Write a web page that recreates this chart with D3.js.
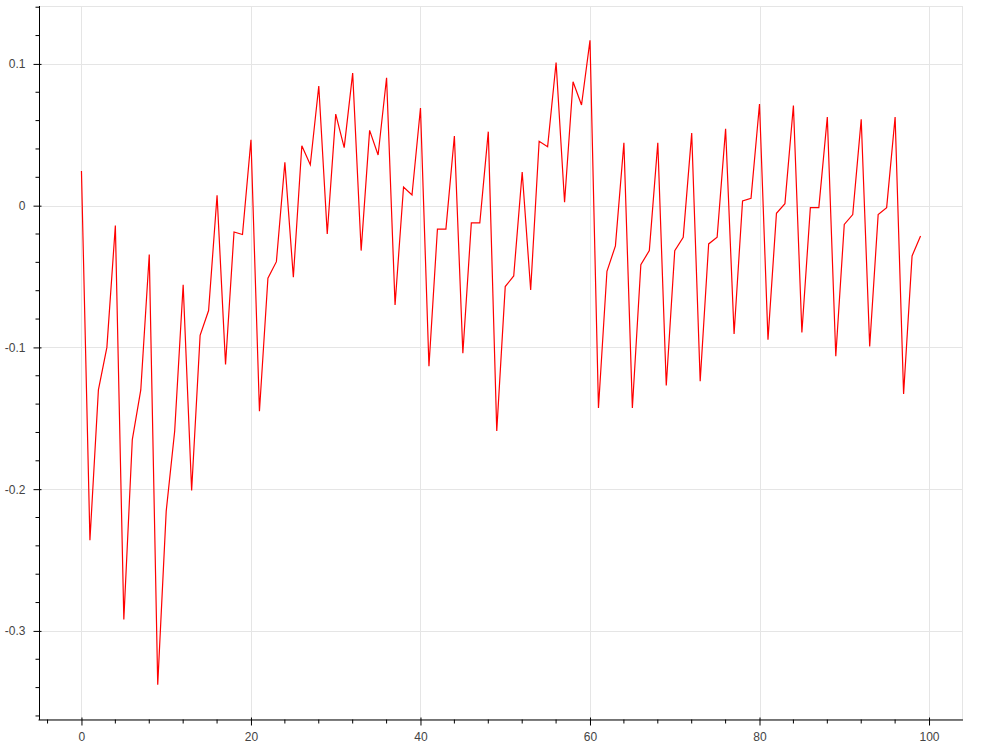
<!DOCTYPE html>
<html>
<head>
<meta charset="utf-8">
<script src="https://cdn.jsdelivr.net/npm/d3@7"></script>
<style>
  html, body { margin: 0; padding: 0; background: #fff; }
  svg { display: block; }
  text { font-family: "Liberation Sans", Arial, Helvetica, sans-serif; }
</style>
</head>
<body>
<svg id="chart" width="1000" height="750"></svg>
<script>
// ---- data ----
const xValues = d3.range(0, 100);
const yValues = [
  0.0244, -0.236, -0.130, -0.100, -0.014, -0.292, -0.165, -0.130, -0.0345, -0.338,
  -0.2155, -0.159, -0.0558, -0.201, -0.0915, -0.074, 0.0073, -0.112, -0.0186, -0.0204,
  0.0465, -0.145, -0.0512, -0.0395, 0.0306, -0.0505, 0.0423, 0.0289, 0.0844, -0.020,
  0.0646, 0.0409, 0.0935, -0.0317, 0.0531, 0.0357, 0.0902, -0.070, 0.0132, 0.0075,
  0.0689, -0.1133, -0.0165, -0.0165, 0.0491, -0.1041, -0.0122, -0.0122, 0.0522, -0.159,
  -0.0571, -0.0496, 0.0237, -0.0595, 0.0454, 0.0416, 0.101, 0.0024, 0.0874, 0.071,
  0.1166, -0.1427, -0.0463, -0.0284, 0.0444, -0.1427, -0.0416, -0.0317, 0.0444, -0.1269,
  -0.0317, -0.0223, 0.0512, -0.1239, -0.027, -0.0223, 0.0543, -0.0905, 0.0033, 0.0052,
  0.0717, -0.0945, -0.0054, 0.0014, 0.0707, -0.0895, -0.0014, -0.0014, 0.0625, -0.1062,
  -0.0132, -0.0063, 0.0609, -0.0994, -0.0063, -0.0014, 0.0625, -0.1328, -0.0355, -0.0214
];
const xTicks = [0, 20, 40, 60, 80, 100];
const yTicks = [-0.3, -0.2, -0.1, 0, 0.1];
const xMinorStep = 4;
const yMinorStep = 0.02;
const xDomain = [-4.95, 103.95];
const yDomain = [-0.3625, 0.1405];

// ---- layout ----
const frame = { left: 39.5, right: 962.5, top: 6.5, bottom: 719.5 };
const svg = d3.select("#chart");

const x = d3.scaleLinear().domain(xDomain).range([frame.left, frame.right]);
const y = d3.scaleLinear().domain(yDomain).range([frame.bottom, frame.top]);

const gridColor = "#e5e5e5";
const labelColor = "#444444";

// outline
svg.append("rect")
  .attr("x", frame.left).attr("y", frame.top)
  .attr("width", frame.right - frame.left)
  .attr("height", frame.bottom - frame.top)
  .attr("fill", "none").attr("stroke", gridColor).attr("stroke-width", 1);

// grid
const gx = svg.append("g");
gx.selectAll("line.xg").data(xTicks).join("line")
  .attr("x1", d => Math.round(x(d)) + 0.5).attr("x2", d => Math.round(x(d)) + 0.5)
  .attr("y1", frame.top).attr("y2", frame.bottom)
  .attr("stroke", gridColor).attr("stroke-width", 1);
gx.selectAll("line.yg").data(yTicks).join("line")
  .attr("y1", d => Math.round(y(d)) + 0.5).attr("y2", d => Math.round(y(d)) + 0.5)
  .attr("x1", frame.left).attr("x2", frame.right)
  .attr("stroke", gridColor).attr("stroke-width", 1);

// line
const line = d3.line().x((d, i) => x(xValues[i])).y(d => y(d));
svg.append("path")
  .datum(yValues)
  .attr("d", line)
  .attr("fill", "none")
  .attr("stroke", "red")
  .attr("stroke-width", 1.2)
  .attr("stroke-linejoin", "miter");

// x axis
const xMinor = d3.range(-4, 104, xMinorStep).filter(v => v >= xDomain[0] && v <= xDomain[1] && !xTicks.includes(v));
const xAxis = d3.axisBottom(x).tickValues(xTicks).tickFormat(d3.format("d"))
  .tickSizeInner(6).tickSizeOuter(0).tickPadding(7);
const xg = svg.append("g").attr("transform", `translate(0,${frame.bottom})`).call(xAxis);
xg.select(".domain").attr("stroke", "#000").attr("d", `M${frame.left - 1},0.5H${frame.right + 0.5}`);
xg.selectAll(".tick line").attr("stroke", "#000").attr("y1", -2).attr("y2", 6);
xg.selectAll(".tick text").attr("fill", labelColor).style("font-size", "12px");
xg.selectAll("line.minor").data(xMinor).join("line").attr("class", "minor")
  .attr("x1", d => x(d)).attr("x2", d => x(d))
  .attr("y1", 0).attr("y2", 4).attr("stroke", "#000");

// y axis
const yMinor = d3.range(-18, 8).map(k => +(k * yMinorStep).toFixed(2))
  .filter(v => v >= yDomain[0] && v <= yDomain[1] && !yTicks.some(t => Math.abs(t - v) < 1e-9));
const yAxis = d3.axisLeft(y).tickValues(yTicks).tickFormat(d => d === 0 ? "0" : d3.format(".1f")(d).replace("−", "-"))
  .tickSizeInner(6).tickSizeOuter(0).tickPadding(8);
const yg = svg.append("g").attr("transform", `translate(${frame.left},0)`).call(yAxis);
yg.select(".domain").attr("stroke", "#000").attr("d", `M0,${frame.top - 0.5}V${frame.bottom + 0.5}`);
yg.selectAll(".tick line").attr("stroke", "#000").attr("x1", 2).attr("x2", -6);
yg.selectAll(".tick text").attr("fill", labelColor).style("font-size", "12px");
yg.selectAll("line.minor").data(yMinor).join("line").attr("class", "minor")
  .attr("y1", d => y(d)).attr("y2", d => y(d))
  .attr("x1", 0).attr("x2", -4).attr("stroke", "#000");
</script>
</body>
</html>
